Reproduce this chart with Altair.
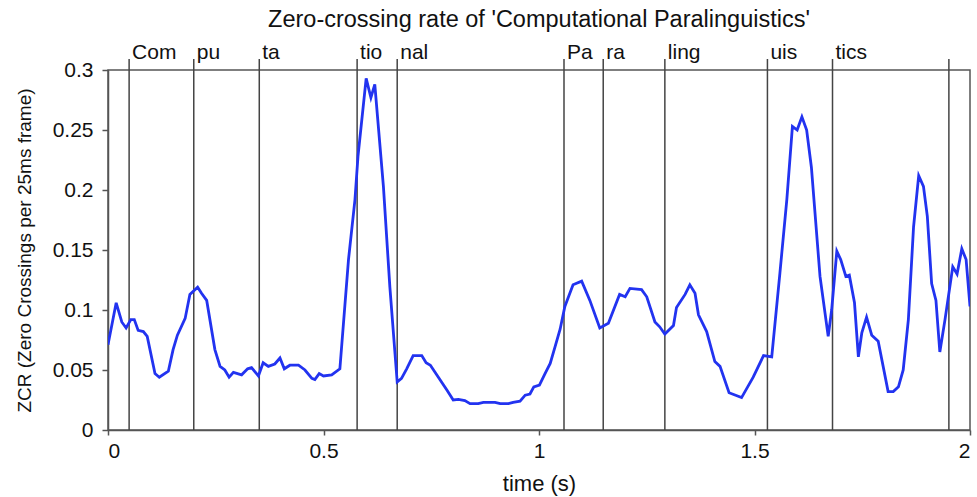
import altair as alt
import pandas as pd

# ZCR curve
t_vals = [0.000, 0.019, 0.032, 0.042, 0.053, 0.061, 0.070, 0.082, 0.091, 0.109,
          0.119, 0.140, 0.151, 0.161, 0.179, 0.190, 0.208, 0.217, 0.229, 0.248,
          0.260, 0.271, 0.281, 0.291, 0.310, 0.324, 0.333, 0.349, 0.360, 0.372,
          0.387, 0.399, 0.409, 0.422, 0.442, 0.457, 0.473, 0.480, 0.490, 0.500,
          0.519, 0.538, 0.558, 0.573, 0.580, 0.599, 0.610, 0.619, 0.639, 0.654,
          0.671, 0.681, 0.693, 0.708, 0.728, 0.738, 0.748, 0.770, 0.787, 0.801,
          0.813, 0.828, 0.840, 0.859, 0.871, 0.898, 0.910, 0.929, 0.940, 0.956,
          0.968, 0.979, 0.988, 1.001, 1.014, 1.026, 1.037, 1.049, 1.060, 1.079,
          1.099, 1.118, 1.141, 1.161, 1.187, 1.200, 1.211, 1.238, 1.250, 1.269,
          1.280, 1.292, 1.312, 1.319, 1.339, 1.350, 1.362, 1.370, 1.389, 1.408,
          1.420, 1.441, 1.470, 1.497, 1.521, 1.540, 1.559, 1.575, 1.588, 1.599,
          1.610, 1.621, 1.632, 1.652, 1.671, 1.679, 1.691, 1.700, 1.712, 1.720,
          1.732, 1.741, 1.749, 1.760, 1.772, 1.787, 1.810, 1.822, 1.834, 1.845,
          1.857, 1.869, 1.881, 1.892, 1.901, 1.911, 1.921, 1.930, 1.942, 1.960,
          1.970, 1.981, 1.991, 2.000]
zcr_vals = [0.071, 0.106, 0.090, 0.085, 0.092, 0.092, 0.083, 0.082, 0.078, 0.047,
            0.044, 0.049, 0.067, 0.079, 0.093, 0.113, 0.119, 0.114, 0.108, 0.067,
            0.053, 0.050, 0.044, 0.048, 0.046, 0.051, 0.052, 0.045, 0.056, 0.053,
            0.055, 0.060, 0.051, 0.054, 0.054, 0.050, 0.043, 0.042, 0.047, 0.045,
            0.046, 0.051, 0.142, 0.192, 0.228, 0.293, 0.277, 0.288, 0.203, 0.119,
            0.040, 0.043, 0.051, 0.062, 0.062, 0.056, 0.054, 0.042, 0.033, 0.025,
            0.0255, 0.0245, 0.022, 0.022, 0.023, 0.023, 0.022, 0.022, 0.023, 0.024,
            0.029, 0.030, 0.036, 0.0375, 0.047, 0.0555, 0.069, 0.084, 0.103, 0.121,
            0.124, 0.108, 0.085, 0.089, 0.113, 0.111, 0.118, 0.117, 0.111, 0.090,
            0.086, 0.080, 0.087, 0.102, 0.113, 0.121, 0.114, 0.096, 0.082, 0.057,
            0.053, 0.031, 0.027, 0.044, 0.062, 0.061, 0.131, 0.192, 0.253, 0.250,
            0.261, 0.250, 0.219, 0.128, 0.078, 0.100, 0.149, 0.142, 0.128, 0.129,
            0.106, 0.061, 0.081, 0.094, 0.079, 0.074, 0.032, 0.032, 0.036, 0.050,
            0.092, 0.169, 0.212, 0.203, 0.178, 0.122, 0.108, 0.065, 0.092, 0.136,
            0.130, 0.151, 0.142, 0.103]

# syllable boundaries and labels
boundaries = [0.049, 0.199, 0.351, 0.578, 0.671, 1.058, 1.149, 1.292, 1.530, 1.681, 1.951]
syllables = ["Com", "pu", "ta", "tio", "nal", "Pa", "ra", "ling", "uis", "tics", ""]

x_ticks = [0, 0.5, 1, 1.5, 2]
y_ticks = [0, 0.05, 0.1, 0.15, 0.2, 0.25, 0.3]

curve = pd.DataFrame({"t": t_vals, "zcr": zcr_vals})
bounds = pd.DataFrame({"t": boundaries, "label": syllables})

FONT = "Liberation Sans"
AX = "#555555"

x_scale = alt.Scale(domain=[0, 2], nice=False, zero=False)
y_scale = alt.Scale(domain=[0, 0.3], nice=False)

line = alt.Chart(curve).mark_line(color="#2233f0", strokeWidth=2.8, clip=True).encode(
    x=alt.X("t:Q", scale=x_scale,
            axis=alt.Axis(title="time (s)", values=x_ticks, format="~g",
                          tickSize=5, labelPadding=5, titlePadding=12,
                          titleFontSize=22)),
    y=alt.Y("zcr:Q", scale=y_scale,
            axis=alt.Axis(title="ZCR (Zero Crossings per 25ms frame)", values=y_ticks,
                          format="~g", tickSize=6, labelPadding=9, titlePadding=18,
                          titleFontSize=19)),
)

rules = alt.Chart(bounds).mark_rule(color="#444444", strokeWidth=1.5).encode(
    x=alt.X("t:Q", scale=x_scale),
    y=alt.value(-11),
    y2=alt.value(360),
)

labels = alt.Chart(bounds).mark_text(
    align="left", baseline="alphabetic", dx=3, fontSize=21, font=FONT, color="#111111"
).encode(
    x=alt.X("t:Q", scale=x_scale),
    y=alt.value(-11),
    text="label:N",
)

chart = alt.layer(rules, line, labels).properties(
    width=862,
    height=360,
    background="white",
    title=alt.TitleParams(
        "Zero-crossing rate of 'Computational Paralinguistics'",
        fontSize=23.5, font=FONT, fontWeight="normal", color="#111111",
        anchor="middle", offset=11,
    ),
    autosize=alt.AutoSizeParams(type="none"),
    padding={"left": 108, "top": 70, "right": 7, "bottom": 67},
).configure_view(
    stroke=AX, strokeWidth=1.5
).configure_axis(
    grid=False, domainColor=AX, domainWidth=1.5, tickColor=AX, tickWidth=1.5,
    labelFont=FONT, labelFontSize=21, labelColor="#111111",
    titleFont=FONT, titleFontSize=21, titleFontWeight="normal", titleColor="#111111",
)

chart.save("out.html", embed_options={"renderer": "svg", "actions": False})
